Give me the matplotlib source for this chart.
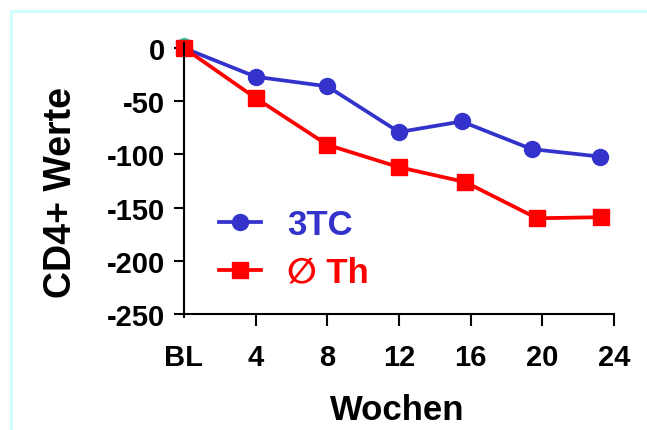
import matplotlib
matplotlib.use("Agg")
import matplotlib.pyplot as plt
from matplotlib.patches import Rectangle

plt.rcParams['font.family'] = ['Liberation Sans', 'DejaVu Sans']

# weeks (measurement times) and CD4+ changes
wochen_3tc = [0, 4, 8, 12, 15.5, 19.4, 23.2]
werte_3tc = [0, -27, -36, -79, -69, -95, -102]
wochen_th = [0, 4, 8, 12, 15.7, 19.7, 23.3]
werte_th = [0, -47, -91, -112, -126, -160, -159]
# little hidden baseline marker behind the first square
basis_x = [0]
basis_y = [3]

x_ticks = [4, 8, 12, 16, 20, 24]
x_labels = ["4", "8", "12", "16", "20", "24"]
y_ticks = [0, -50, -100, -150, -200, -250]

fig = plt.figure(figsize=(6.47, 4.31), dpi=100)
ax = fig.add_axes([184/647, 1-315/431, 430/647, 271.3/431])

# light cyan frame line
fig.patches.append(Rectangle((11/647, -0.2), 2, 1.2 - 12/431, transform=fig.transFigure,
                             fill=False, edgecolor="#ccffff", linewidth=1.8))

ax.plot(basis_x, basis_y, 'o', color="#33cc99", markersize=10, clip_on=False)
ax.plot(wochen_3tc, werte_3tc, '-o', color="#3333cc", linewidth=2.7, markersize=11.5,
        label="3TC", clip_on=False)
ax.plot(wochen_th, werte_th, '-s', color="#ff0000", linewidth=2.7, markersize=11.5,
        label="\u2205 Th", clip_on=False)

ax.set_xlim(0, 24)
ax.set_ylim(-250, 5)

for s in ["top", "right"]:
    ax.spines[s].set_visible(False)
for s in ["left", "bottom"]:
    ax.spines[s].set_linewidth(1.5)

ax.set_xticks(x_ticks, x_labels)
ax.set_xticks([0], ["BL"], minor=True)
ax.set_yticks(y_ticks, [str(v) for v in y_ticks])
ax.tick_params(axis='x', which='major', length=8.6, width=1.5, pad=12.5, labelsize=21)
ax.tick_params(axis='x', which='minor', length=3, width=1.5, pad=18.1, labelsize=21)
ax.tick_params(axis='y', length=7.2, width=1.5, pad=6.5, labelsize=21)
for t in ax.get_xticklabels() + ax.get_yticklabels() + ax.get_xticklabels(minor=True):
    t.set_fontweight("bold")

ax.set_xlabel("Wochen", fontsize=25, fontweight="bold")
ax.xaxis.set_label_coords(0.495, -0.29)
ax.set_ylabel("CD4+ Werte", fontsize=27, fontweight="bold")
ax.yaxis.set_label_coords(-0.245, 0.453)

leg = ax.legend(loc="center left", bbox_to_anchor=(219/647, 1-249.5/431),
                bbox_transform=fig.transFigure, frameon=False, borderpad=0,
                borderaxespad=0, handlelength=1.2, handletextpad=0.75,
                labelspacing=0.42, prop={"size": 25, "weight": "bold"})
for txt, c in zip(leg.get_texts(), ["#3333cc", "#ff0000"]):
    txt.set_color(c)

fig.savefig("out.png", dpi=100)
